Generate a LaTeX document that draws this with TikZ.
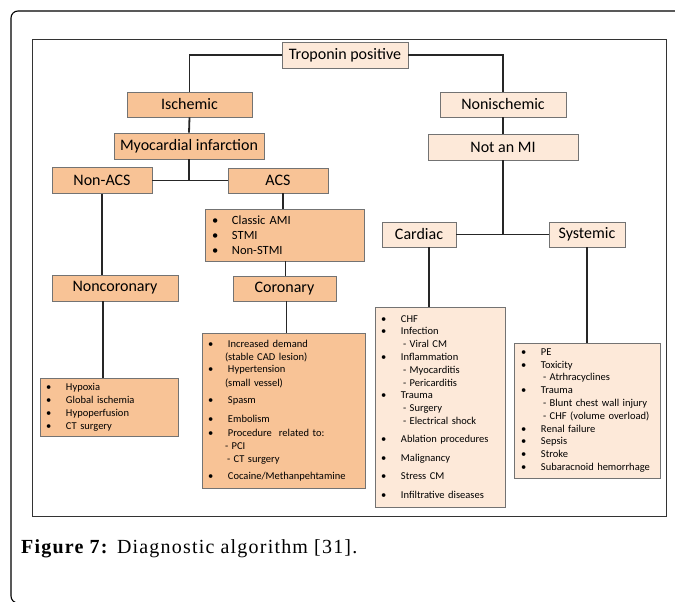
\documentclass[tikz,border=0pt]{standalone}
\usepackage{fontspec}
\setmainfont{Liberation Serif}
\newfontfamily\calibri{Carlito}
\newfontfamily\captionfont[LetterSpace=6]{Liberation Serif}
\definecolor{ischfill}{RGB}{248,195,150}
\definecolor{nonfill}{RGB}{253,233,217}
\definecolor{boxline}{RGB}{115,115,115}
\newcommand{\itm}[1]{\makebox[20pt][l]{\textbullet}#1}
\newcommand{\subitm}[2][22pt]{\hspace*{#1}- #2}

\begin{document}
\begin{tikzpicture}[x=1pt,y=-1pt,
    box/.style={draw=boxline,line width=0.8pt,inner sep=0pt,
      font=\calibri\fontsize{16}{18}\selectfont},
    dark/.style={box,fill=ischfill},
    light/.style={box,fill=nonfill},
    list/.style={draw=boxline,line width=0.8pt,inner xsep=6pt,inner ysep=0pt,
      align=left,font=\calibri\fontsize{10.5}{12.8}\selectfont},
    conn/.style={line width=1.8pt,black!85}]
  \useasboundingbox (0,0) rectangle (675,602);

  % frames
  \begin{scope}
    \clip (0,0) rectangle (675,602);
    \draw[line width=1.1pt,rounded corners=7] (690,11) -- (11,11) -- (11,603) -- (22,603);
  \end{scope}
  \draw[line width=1pt,black!80] (32,40) rectangle (666,516);

  % top levels
  \node[light,minimum width=126,minimum height=26] (trop) at (345,55) {Troponin positive};
  \node[dark,minimum width=125,minimum height=25] (isch) at (189.5,104.5) {Ischemic};
  \node[light,minimum width=126,minimum height=25] (nonisch) at (503,104.5) {Nonischemic};
  \node[dark,minimum width=150,minimum height=26] (mi) at (189,146) {Myocardial infarction};
  \node[light,minimum width=150,minimum height=26] (notmi) at (503,147) {Not an MI};
  \node[dark,minimum width=100,minimum height=26] (nonacs) at (102,180.5) {Non-ACS};
  \node[dark,minimum width=100,minimum height=25] (acs) at (278,180.5) {ACS};
  \node[light,minimum width=74,minimum height=25] (cardiac) at (419,234.5) {Cardiac};
  \node[light,minimum width=76,minimum height=25] (systemic) at (587,234.5) {Systemic};
  \node[dark,minimum width=126,minimum height=26] (noncor) at (115,288) {Noncoronary};
  \node[dark,minimum width=103,minimum height=25] (coronary) at (284.5,288.5) {Coronary};

  % lists
  \node[list,fill=ischfill,inner xsep=7pt,text width=145,minimum height=52,
    font=\calibri\fontsize{12.5}{15}\selectfont] (classic) at (284.5,235)
    {\itm{Classic AMI}\\ \itm{STMI}\\ \itm{Non-STMI}};
  \node[list,fill=ischfill,text width=126,minimum height=58,
    font=\calibri\fontsize{10.5}{13}\selectfont] (noncorlist) at (109,407)
    {\itm{Hypoxia}\\ \itm{Global ischemia}\\ \itm{Hypoperfusion}\\ \itm{CT surgery}};
  \node[list,fill=ischfill,text width=151,minimum height=155] (corlist) at (283.5,410.5)
    {\itm{Increased demand}\\
     \hspace*{17pt}(stable CAD lesion)\\
     \itm{Hypertension}\\[1pt]
     \hspace*{17pt}(small vessel)\\[4pt]
     \itm{Spasm}\\[6pt]
     \itm{Embolism}\\[1pt]
     \itm{Procedure\ \ related to:}\\[1pt]
     \hspace*{17pt}- PCI\\
     \hspace*{19pt}- CT surgery\\[4pt]
     \itm{Cocaine/Methanpehtamine}};
  \node[list,fill=nonfill,text width=118,minimum height=200] (cardlist) at (440,407)
    {\itm{CHF}\\
     \itm{Infection}\\
     \subitm{Viral CM}\\
     \itm{Inflammation}\\
     \subitm{Myocarditis}\\
     \subitm{Pericarditis}\\
     \itm{Trauma}\\
     \subitm{Surgery}\\
     \subitm{Electrical shock}\\[5pt]
     \itm{Ablation procedures}\\[6pt]
     \itm{Malignancy}\\[6pt]
     \itm{Stress CM}\\[6pt]
     \itm{Infiltrative diseases}};
  \node[list,fill=nonfill,inner xsep=7pt,text width=132,minimum height=135] (syslist) at (587,410.5)
    {\itm{PE}\\
     \itm{Toxicity}\\
     \subitm{Atrhracyclines}\\
     \itm{Trauma}\\
     \subitm{Blunt chest wall injury}\\
     \subitm{CHF (volume overload)}\\
     \itm{Renal failure}\\
     \itm{Sepsis}\\
     \itm{Stroke}\\
     \itm{Subaracnoid hemorrhage}};

  % connectors
  \draw[conn] (trop.west) -| (isch.north);
  \draw[conn] (trop.east) -| (nonisch.north);
  \draw[conn] (isch.south) -- (mi.north);
  \draw[conn] (nonisch.south) -- (notmi.north);
  \draw[conn] (mi.south) -- (mi.south |- nonacs.east);
  \draw[conn] (nonacs.east) -- (acs.west);
  \draw[conn] (notmi.south) -- (notmi.south |- cardiac.east);
  \draw[conn] (cardiac.east) -- (systemic.west);
  \draw[conn] (nonacs.south) -- (nonacs.south |- noncor.north);
  \draw[conn] ([xshift=5pt]acs.south) -- ([xshift=5pt]acs.south |- classic.north);
  \draw[conn] ([xshift=1pt]classic.south) -- ([xshift=1pt]classic.south |- coronary.north);
  \draw[conn] ([xshift=2pt]coronary.south) -- ([xshift=2pt]coronary.south |- corlist.north);
  \draw[conn] ([xshift=-12pt]noncor.south) -- ([xshift=-12pt]noncor.south |- noncorlist.north);
  \draw[conn] ([xshift=10pt]cardiac.south) -- ([xshift=10pt]cardiac.south |- cardlist.north);
  \draw[conn] (systemic.south) -- (systemic.south |- syslist.north);

  % caption
  \node[anchor=base west,inner sep=0pt,font=\captionfont\fontsize{20}{22}\selectfont] (caption) at (21,553)
    {\textbf{Figure 7:} Diagnostic algorithm [31].};
\end{tikzpicture}
\end{document}
